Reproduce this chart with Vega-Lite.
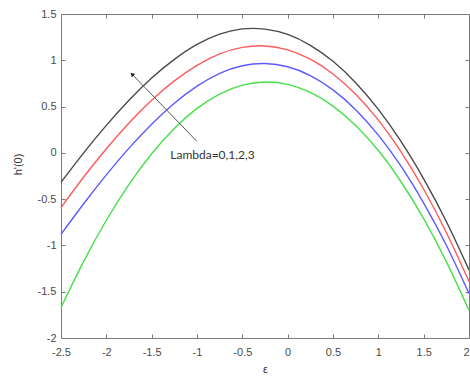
{
  "$schema": "https://vega.github.io/schema/vega-lite/v6.json",
  "width": 408,
  "height": 324,
  "autosize": {"type": "none"},
  "padding": {"left": 61, "top": 14, "right": 1, "bottom": 38},
  "background": "white",
  "config": {
    "view": {"stroke": null},
    "axis": {
      "grid": false,
      "domainColor": "#7a7a7a",
      "tickColor": "#7a7a7a",
      "tickSize": -4,
      "labelFlush": false,
      "labelOverlap": false,
      "labelFont": "Liberation Sans",
      "labelFontSize": 11,
      "labelColor": "#4a4a4a",
      "titleFont": "Liberation Sans",
      "titleFontSize": 11,
      "titleFontWeight": "normal",
      "titleColor": "#333333"
    }
  },
  "datasets": {
    "curves": [
      {"x": -2.5, "y": -0.318, "lambda": "3"}, {"x": -2.25, "y": 0.0, "lambda": "3"}, {"x": -2, "y": 0.297, "lambda": "3"}, {"x": -1.75, "y": 0.568, "lambda": "3"}, {"x": -1.5, "y": 0.808, "lambda": "3"}, {"x": -1.25, "y": 1.01, "lambda": "3"}, {"x": -1, "y": 1.172, "lambda": "3"}, {"x": -0.75, "y": 1.283, "lambda": "3"}, {"x": -0.5, "y": 1.339, "lambda": "3"}, {"x": -0.25, "y": 1.337, "lambda": "3"}, {"x": 0, "y": 1.279, "lambda": "3"}, {"x": 0.25, "y": 1.162, "lambda": "3"}, {"x": 0.5, "y": 0.989, "lambda": "3"}, {"x": 0.75, "y": 0.758, "lambda": "3"}, {"x": 1, "y": 0.469, "lambda": "3"}, {"x": 1.25, "y": 0.123, "lambda": "3"}, {"x": 1.5, "y": -0.281, "lambda": "3"}, {"x": 1.75, "y": -0.742, "lambda": "3"}, {"x": 2, "y": -1.265, "lambda": "3"},
      {"x": -2.5, "y": -0.591, "lambda": "2"}, {"x": -2.25, "y": -0.261, "lambda": "2"}, {"x": -2, "y": 0.045, "lambda": "2"}, {"x": -1.75, "y": 0.323, "lambda": "2"}, {"x": -1.5, "y": 0.569, "lambda": "2"}, {"x": -1.25, "y": 0.777, "lambda": "2"}, {"x": -1, "y": 0.945, "lambda": "2"}, {"x": -0.75, "y": 1.069, "lambda": "2"}, {"x": -0.5, "y": 1.139, "lambda": "2"}, {"x": -0.25, "y": 1.155, "lambda": "2"}, {"x": 0, "y": 1.113, "lambda": "2"}, {"x": 0.25, "y": 1.012, "lambda": "2"}, {"x": 0.5, "y": 0.852, "lambda": "2"}, {"x": 0.75, "y": 0.632, "lambda": "2"}, {"x": 1, "y": 0.353, "lambda": "2"}, {"x": 1.25, "y": 0.01, "lambda": "2"}, {"x": 1.5, "y": -0.393, "lambda": "2"}, {"x": 1.75, "y": -0.861, "lambda": "2"}, {"x": 2, "y": -1.389, "lambda": "2"},
      {"x": -2.5, "y": -0.88, "lambda": "1"}, {"x": -2.25, "y": -0.55, "lambda": "1"}, {"x": -2, "y": -0.238, "lambda": "1"}, {"x": -1.75, "y": 0.051, "lambda": "1"}, {"x": -1.5, "y": 0.31, "lambda": "1"}, {"x": -1.25, "y": 0.535, "lambda": "1"}, {"x": -1, "y": 0.72, "lambda": "1"}, {"x": -0.75, "y": 0.859, "lambda": "1"}, {"x": -0.5, "y": 0.941, "lambda": "1"}, {"x": -0.25, "y": 0.965, "lambda": "1"}, {"x": 0, "y": 0.93, "lambda": "1"}, {"x": 0.25, "y": 0.835, "lambda": "1"}, {"x": 0.5, "y": 0.68, "lambda": "1"}, {"x": 0.75, "y": 0.466, "lambda": "1"}, {"x": 1, "y": 0.191, "lambda": "1"}, {"x": 1.25, "y": -0.144, "lambda": "1"}, {"x": 1.5, "y": -0.542, "lambda": "1"}, {"x": 1.75, "y": -0.998, "lambda": "1"}, {"x": 2, "y": -1.519, "lambda": "1"},
      {"x": -2.5, "y": -1.671, "lambda": "0"}, {"x": -2.25, "y": -1.172, "lambda": "0"}, {"x": -2, "y": -0.728, "lambda": "0"}, {"x": -1.75, "y": -0.34, "lambda": "0"}, {"x": -1.5, "y": -0.009, "lambda": "0"}, {"x": -1.25, "y": 0.264, "lambda": "0"}, {"x": -1, "y": 0.48, "lambda": "0"}, {"x": -0.75, "y": 0.635, "lambda": "0"}, {"x": -0.5, "y": 0.731, "lambda": "0"}, {"x": -0.25, "y": 0.766, "lambda": "0"}, {"x": 0, "y": 0.74, "lambda": "0"}, {"x": 0.25, "y": 0.653, "lambda": "0"}, {"x": 0.5, "y": 0.505, "lambda": "0"}, {"x": 0.75, "y": 0.295, "lambda": "0"}, {"x": 1, "y": 0.025, "lambda": "0"}, {"x": 1.25, "y": -0.312, "lambda": "0"}, {"x": 1.5, "y": -0.71, "lambda": "0"}, {"x": 1.75, "y": -1.175, "lambda": "0"}, {"x": 2, "y": -1.701, "lambda": "0"}
    ],
    "arrow": [
      {"x": -1.002, "y": 0.125, "x2": -1.716, "y2": 0.849}
    ],
    "label": [
      {"x": -1.295, "y": -0.02, "text": "Lambda=0,1,2,3"}
    ]
  },
  "resolve": {"scale": {"x": "independent", "y": "independent"}},
  "layer": [
    {
      "data": {"name": "curves"},
      "mark": {"type": "line", "strokeWidth": 1.4, "interpolate": "natural"},
      "encoding": {
        "x": {
          "field": "x", "type": "quantitative",
          "scale": {"domain": [-2.5, 2], "nice": false, "zero": false},
          "axis": {"orient": "bottom", "values": [-2.5, -2, -1.5, -1, -0.5, 0, 0.5, 1, 1.5, 2], "labelExpr": "'' + datum.value", "labelAlign": {"condition": {"test": "datum.value == 2", "value": "right"}, "value": "center"}, "labelPadding": 12, "title": "ε", "titleBaseline": "middle", "titleY": 31}
        },
        "y": {
          "field": "y", "type": "quantitative",
          "scale": {"domain": [-2, 1.5], "nice": false, "zero": false},
          "axis": {"orient": "left", "values": [-2, -1.5, -1, -0.5, 0, 0.5, 1, 1.5], "labelExpr": "'' + datum.value", "labelPadding": 9, "title": "h'(0)", "titleBaseline": "middle", "titleAlign": "center", "titleX": -43, "titleY": 150}
        },
        "color": {
          "field": "lambda", "type": "nominal", "legend": null,
          "scale": {"domain": ["3", "2", "1", "0"], "range": ["#4a4a4a", "#ff5a5a", "#5a5aff", "#48e048"]}
        }
      }
    },
    {
      "data": {"name": "arrow"},
      "mark": {"type": "rule", "color": "#555555", "strokeWidth": 1},
      "encoding": {
        "x": {
          "field": "x", "type": "quantitative",
          "scale": {"domain": [-2.5, 2], "nice": false, "zero": false},
          "axis": {"orient": "top", "values": [-2.5, -2, -1.5, -1, -0.5, 0, 0.5, 1, 1.5, 2], "labels": false, "title": null}
        },
        "y": {
          "field": "y", "type": "quantitative",
          "scale": {"domain": [-2, 1.5], "nice": false, "zero": false},
          "axis": {"orient": "right", "values": [-2, -1.5, -1, -0.5, 0, 0.5, 1, 1.5], "labels": false, "title": null}
        },
        "x2": {"field": "x2"},
        "y2": {"field": "y2"}
      }
    },
    {
      "data": {"name": "arrow"},
      "mark": {"type": "point", "shape": "triangle-up", "filled": true, "color": "#222222", "size": 22, "angle": 316, "opacity": 1},
      "encoding": {
        "x": {"field": "x2", "type": "quantitative", "scale": {"domain": [-2.5, 2], "nice": false, "zero": false}, "axis": null},
        "y": {"field": "y2", "type": "quantitative", "scale": {"domain": [-2, 1.5], "nice": false, "zero": false}, "axis": null}
      }
    },
    {
      "data": {"name": "label"},
      "mark": {"type": "text", "align": "left", "baseline": "middle", "font": "Lato", "fontSize": 12, "color": "#333333"},
      "encoding": {
        "x": {"field": "x", "type": "quantitative", "scale": {"domain": [-2.5, 2], "nice": false, "zero": false}, "axis": null},
        "y": {"field": "y", "type": "quantitative", "scale": {"domain": [-2, 1.5], "nice": false, "zero": false}, "axis": null},
        "text": {"field": "text"}
      }
    }
  ]
}
